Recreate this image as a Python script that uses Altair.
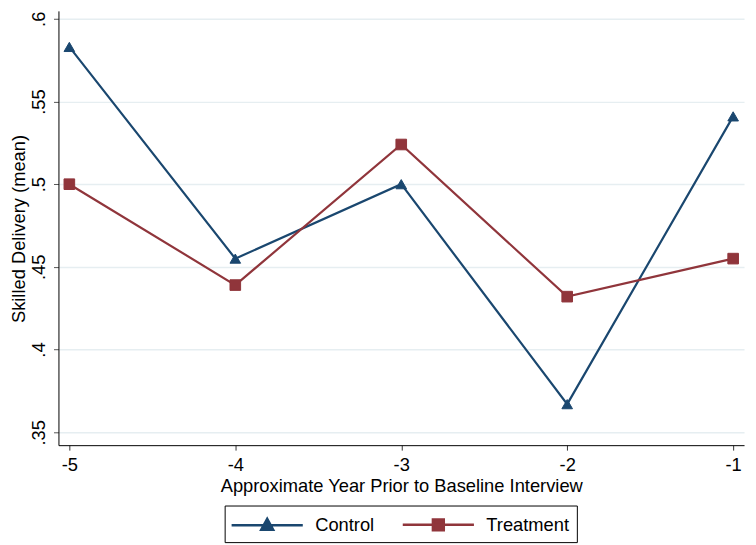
import altair as alt
import pandas as pd

years = [-5, -4, -3, -2, -1]
control = [0.583, 0.455, 0.500, 0.367, 0.541]
treatment = [0.500, 0.439, 0.524, 0.432, 0.455]
groups = ["Control", "Treatment"]
colors = ["#1a476f", "#90353b"]
y_ticks = [0.35, 0.40, 0.45, 0.50, 0.55, 0.60]

df = pd.DataFrame({
    "year": years * 2,
    "value": control + treatment,
    "group": [groups[0]] * len(years) + [groups[1]] * len(years),
})
df["marker"] = df["group"]

FONT = "Liberation Sans"
FS = 18.5

ctrl_path = "M-3.27,0L3.27,0M0,-0.6L0.55,0.4L-0.55,0.4Z"
treat_path = "M-3.27,0L3.27,0M-0.5,-0.5L0.5,-0.5L0.5,0.5L-0.5,0.5Z"
shape_sig = f"datum.value === '{groups[0]}' ? '{ctrl_path}' : '{treat_path}'"


def make_legend():
    return alt.Legend(
        title=None,
        orient="none",
        legendX=168,
        legendY=500,
        direction="horizontal",
        strokeColor="black",
        padding=7,
        columnPadding=23,
        labelFont=FONT,
        labelFontSize=FS,
        labelColor="black",
        labelOffset=36,
        symbolOffset=23.5,
        symbolSize=484,
        symbolStrokeWidth=2.5,
        symbolOpacity=1,
        symbolType=alt.ExprRef(expr=shape_sig),
    )


x = alt.X(
    "year:Q",
    scale=alt.Scale(domain=[-5.0656, -0.9344], nice=False, zero=False),
    axis=alt.Axis(
        values=years,
        title="Approximate Year Prior to Baseline Interview",
        labelExpr="datum.value < 0 ? '-' + abs(datum.value) : '' + datum.value",
        grid=False,
        tickSize=5,
        tickColor="#333333",
        domainColor="black",
        labelFont=FONT,
        labelFontSize=FS,
        labelColor="black",
        labelPadding=6,
        titleFont=FONT,
        titleFontSize=FS,
        titleFontWeight="normal",
        titleColor="black",
        titlePadding=2,
    ),
)
y = alt.Y(
    "value:Q",
    scale=alt.Scale(domain=[0.3422, 0.6048], nice=False, zero=False),
    axis=alt.Axis(
        values=y_ticks,
        title="Skilled Delivery (mean)",
        labelExpr="replace(format(datum.value, '.2~f'), '0.', '.')",
        labelAngle=270,
        labelAlign="center",
        labelBaseline="bottom",
        labelPadding=5,
        grid=True,
        gridColor="#e6eef1",
        gridWidth=1.5,
        tickSize=5,
        tickColor="#555555",
        domainColor="black",
        labelFont=FONT,
        labelFontSize=FS,
        labelColor="black",
        titleFont=FONT,
        titleFontSize=FS,
        titleFontWeight="normal",
        titleColor="black",
        titleAngle=270,
        titleX=-40,
        titleY=220,
        titleAlign="center",
        titleBaseline="middle",
    ),
)
stroke = alt.Stroke("group:N", scale=alt.Scale(domain=groups, range=colors), legend=make_legend())
fill = alt.Fill("group:N", scale=alt.Scale(domain=groups, range=colors), legend=make_legend())

base = alt.Chart(df).encode(x=x, y=y)
lines = base.mark_line(strokeWidth=2.2).encode(stroke=stroke)
points = base.mark_point(filled=True, size=115, opacity=1, strokeWidth=1).encode(
    fill=fill,
    stroke=stroke,
    shape=alt.Shape("marker:N", scale=alt.Scale(range=["triangle-up", "square"]), legend=None),
)

chart = (
    alt.layer(lines, points)
    .properties(
        width=693,
        height=439,
        padding={"left": 51, "top": 0, "right": 4, "bottom": 98},
        autosize=alt.AutoSizeParams(type="none"),
        background="white",
    )
    .configure_view(stroke=None)
)

chart.save("out.html", embed_options={"renderer": "svg", "actions": False})
